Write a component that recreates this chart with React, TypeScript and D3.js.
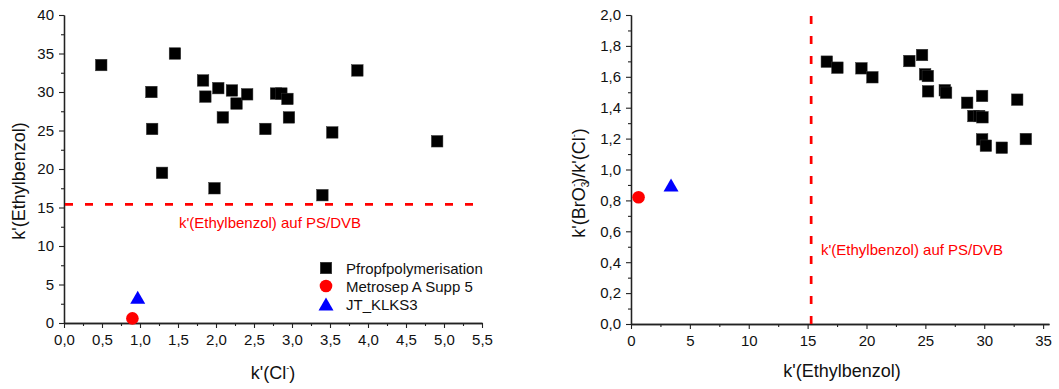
import React, { useEffect, useRef } from "react";
import * as d3 from "d3";

// ---- Left chart data: k'(Cl-) vs k'(Ethylbenzol)
const pfClX = [0.49, 1.15, 1.16, 1.46, 1.29, 1.83, 1.86, 2.03, 2.09, 2.21, 2.27, 2.41, 1.98, 2.65, 2.79, 2.86, 2.94, 2.96, 3.40, 3.53, 3.86, 4.91];
const pfEthY = [33.5, 30.0, 25.2, 35.0, 19.5, 31.5, 29.4, 30.5, 26.7, 30.2, 28.5, 29.7, 17.5, 25.2, 29.8, 29.8, 29.1, 26.7, 16.6, 24.75, 32.8, 23.6];
const metrosepLeft = [{ x: 0.9, y: 0.6 }];
const jtLeft = [{ x: 0.97, y: 3.35 }];
const psdvbEthyl = 15.4;

// ---- Right chart data: k'(Ethylbenzol) vs k'(BrO3-)/k'(Cl-)
const pfEthX = [16.63, 17.53, 19.57, 20.5, 23.64, 24.72, 24.98, 25.21, 25.23, 26.65, 26.76, 28.55, 29.08, 29.57, 29.85, 29.82, 29.82, 30.14, 31.49, 32.8, 33.53];
const pfRatioY = [1.698, 1.659, 1.655, 1.597, 1.702, 1.741, 1.616, 1.605, 1.506, 1.513, 1.497, 1.432, 1.346, 1.346, 1.338, 1.476, 1.195, 1.154, 1.141, 1.452, 1.197];
const metrosepRight = [{ x: 0.64, y: 0.82 }];
const jtRight = [{ x: 3.4, y: 0.9 }];
const psdvbEthylRight = 15.3;

const leftXTicks = [0, 0.5, 1, 1.5, 2, 2.5, 3, 3.5, 4, 4.5, 5, 5.5];
const leftYTicks = [0, 5, 10, 15, 20, 25, 30, 35, 40];
const rightXTicks = [0, 5, 10, 15, 20, 25, 30, 35];
const rightYTicks = [0, 0.2, 0.4, 0.6, 0.8, 1.0, 1.2, 1.4, 1.6, 1.8, 2.0];

const legendItems = ["Pfropfpolymerisation", "Metrosep A Supp 5", "JT_KLKS3"];

const FONT = "Arial, 'Liberation Sans', sans-serif";
const AXIS_COLOR = "#222";

const fmt1 = (d: number) => d3.format(".1f")(d).replace(".", ",");
const fmt0 = (d: number) => d3.format("d")(d);

function mids(ticks: number[]) {
  const out: number[] = [];
  for (let i = 0; i < ticks.length - 1; i++) out.push((ticks[i] + ticks[i + 1]) / 2);
  return out;
}

export default function App() {
  const ref = useRef<SVGGElement | null>(null);

  useEffect(() => {
    const svg = d3.select(ref.current);
    svg.selectAll("*").remove();

    const drawAxes = (
      x: d3.ScaleLinear<number, number>,
      y: d3.ScaleLinear<number, number>,
      xt: number[],
      yt: number[],
      xf: (d: number) => string,
      yf: (d: number) => string
    ) => {
      const y0 = y.range()[0];
      const x0 = x.range()[0];
      const gxm = svg.append("g").attr("transform", `translate(0,${y0})`)
        .call(d3.axisBottom(x).tickValues(mids(xt)).tickSize(3).tickSizeOuter(0).tickFormat(() => ""));
      const gym = svg.append("g").attr("transform", `translate(${x0},0)`)
        .call(d3.axisLeft(y).tickValues(mids(yt)).tickSize(3).tickSizeOuter(0).tickFormat(() => ""));
      const gx = svg.append("g").attr("transform", `translate(0,${y0})`)
        .call(d3.axisBottom(x).tickValues(xt).tickSize(5).tickSizeOuter(0).tickPadding(6).tickFormat(xf as any));
      const gy = svg.append("g").attr("transform", `translate(${x0},0)`)
        .call(d3.axisLeft(y).tickValues(yt).tickSize(5).tickSizeOuter(0).tickPadding(5).tickFormat(yf as any));
      [gxm, gym, gx, gy].forEach((g) => {
        g.selectAll("path").attr("stroke", AXIS_COLOR).attr("stroke-width", 1.3);
        g.selectAll("line").attr("stroke", AXIS_COLOR).attr("stroke-width", 1.1);
        g.selectAll("text").attr("font-family", FONT).attr("font-size", 15).attr("fill", "#111");
      });
    };

    const square = (g: any, x: number, y: number, s = 11.5) =>
      g.append("rect").attr("x", x - s / 2).attr("y", y - s / 2).attr("width", s).attr("height", s)
        .attr("fill", "#000").attr("stroke", "#333").attr("stroke-width", 0.5);
    const circle = (g: any, x: number, y: number, r = 6.3) =>
      g.append("circle").attr("cx", x).attr("cy", y).attr("r", r).attr("fill", "#ff0000");
    const tri = (g: any, x: number, y: number, w = 15, h = 13) =>
      g.append("path").attr("d", `M${x - w / 2},${y + h / 2}L${x + w / 2},${y + h / 2}L${x},${y - h / 2}Z`).attr("fill", "#0000ff");

    // ---------------- LEFT CHART
    const xL = d3.scaleLinear().domain([0, 5.5]).range([64, 482]);
    const yL = d3.scaleLinear().domain([0, 40]).range([323, 15]);
    drawAxes(xL, yL, leftXTicks, leftYTicks, fmt1, fmt0);

    svg.append("line")
      .attr("x1", xL(0) + 1).attr("x2", xL(5.5))
      .attr("y1", yL(psdvbEthyl)).attr("y2", yL(psdvbEthyl))
      .attr("stroke", "#ff0000").attr("stroke-width", 2.7).attr("stroke-dasharray", "8,12");
    svg.append("text").attr("x", 270).attr("y", 228).attr("text-anchor", "middle")
      .attr("font-family", FONT).attr("font-size", 15).attr("fill", "#ff0000")
      .text("k'(Ethylbenzol) auf PS/DVB");

    const gL = svg.append("g");
    pfClX.forEach((v, i) => square(gL, xL(v), yL(pfEthY[i])));
    metrosepLeft.forEach((d) => circle(gL, xL(d.x), yL(d.y)));
    jtLeft.forEach((d) => tri(gL, xL(d.x), yL(d.y)));

    const legY = [268, 286, 304];
    legendItems.forEach((t, i) => {
      if (i === 0) square(svg, 326, legY[i]);
      if (i === 1) circle(svg, 326, legY[i]);
      if (i === 2) tri(svg, 326, legY[i]);
      svg.append("text").attr("x", 346).attr("y", legY[i] + 5.5)
        .attr("font-family", FONT).attr("font-size", 15).attr("fill", "#111").text(t);
    });

    // ---------------- RIGHT CHART
    const xR = d3.scaleLinear().domain([0, 35.5]).range([631, 1049]);
    const yR = d3.scaleLinear().domain([0, 2]).range([324, 15]);
    drawAxes(xR, yR, rightXTicks, rightYTicks, fmt0, fmt1);

    svg.append("line")
      .attr("x1", xR(psdvbEthylRight)).attr("x2", xR(psdvbEthylRight))
      .attr("y1", yR(2) + 1).attr("y2", yR(0))
      .attr("stroke", "#ff0000").attr("stroke-width", 2.7).attr("stroke-dasharray", "8,12");
    svg.append("text").attr("x", 821).attr("y", 255)
      .attr("font-family", FONT).attr("font-size", 15).attr("fill", "#ff0000")
      .text("k'(Ethylbenzol) auf PS/DVB");

    const gR = svg.append("g");
    pfEthX.forEach((v, i) => square(gR, xR(v), yR(pfRatioY[i])));
    metrosepRight.forEach((d) => circle(gR, xR(d.x), yR(d.y)));
    jtRight.forEach((d) => tri(gR, xR(d.x), yR(d.y)));
  }, []);

  const titleStyle = { fontFamily: FONT, fontSize: 18, fill: "#111" } as const;

  return (
    <svg width={1059} height={389} style={{ position: "absolute", left: 0, top: 0, background: "#fff" }}>
      <g ref={ref as any} />
      <text x={273} y={379} textAnchor="middle" style={titleStyle}>
        k'(Cl<tspan fontSize={9} dy={-8}>-</tspan><tspan dy={8}>)</tspan>
      </text>
      <text x={842} y={377} textAnchor="middle" style={titleStyle}>k'(Ethylbenzol)</text>
      <text transform="translate(25,181) rotate(-90)" textAnchor="middle" style={titleStyle}>k'(Ethylbenzol)</text>
      <text transform="translate(585,183) rotate(-90)" textAnchor="middle" style={titleStyle}>
        k'(BrO<tspan fontSize={10} dy={4}>3</tspan>
        <tspan fontSize={9} dx={-5} dy={-12}>-</tspan>
        <tspan dy={8}>)/k'(Cl</tspan>
        <tspan fontSize={9} dy={-8}>-</tspan>
        <tspan dy={8}>)</tspan>
      </text>
    </svg>
  );
}
